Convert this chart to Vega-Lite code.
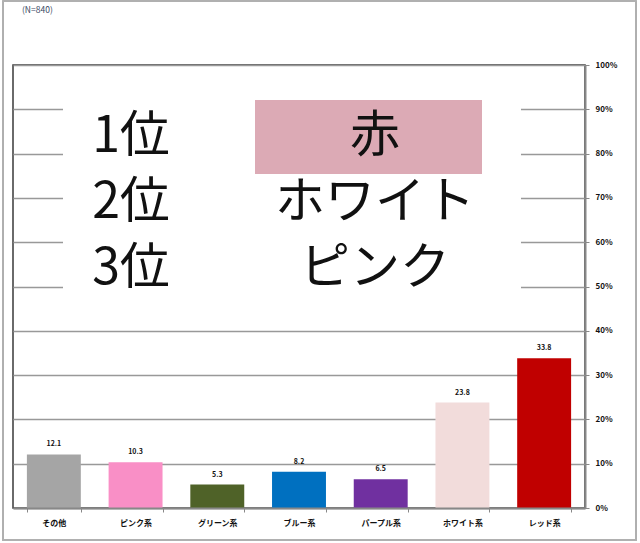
{
  "$schema": "https://vega.github.io/schema/vega-lite/v6.json",
  "autosize": {"type": "none"},
  "padding": {"left": 13, "top": 65, "right": 55, "bottom": 35},
  "width": 572,
  "height": 443,
  "background": "white",
  "title": {
    "text": "(N=840)",
    "anchor": "start",
    "frame": "group",
    "fontSize": 8.5,
    "fontWeight": "normal",
    "font": "Noto Sans CJK JP",
    "color": "#3a4a63",
    "dx": 9,
    "offset": -14
  },
  "config": {
    "view": {"stroke": "#3a3a3a", "strokeWidth": 1.5},
    "font": "Noto Sans CJK JP"
  },
  "datasets": {
    "shares": [
      {"category": "その他", "share": 12.1},
      {"category": "ピンク系", "share": 10.3},
      {"category": "グリーン系", "share": 5.3},
      {"category": "ブルー系", "share": 8.2},
      {"category": "パープル系", "share": 6.5},
      {"category": "ホワイト系", "share": 23.8},
      {"category": "レッド系", "share": 33.8}
    ],
    "ranking": [
      {"rank": "1位", "name": "赤"},
      {"rank": "2位", "name": "ホワイト"},
      {"rank": "3位", "name": "ピンク"}
    ]
  },
  "layer": [
    {
      "data": {"name": "shares"},
      "encoding": {
        "x": {
          "field": "category",
          "type": "nominal",
          "sort": null,
          "scale": {
            "domain": ["その他", "ピンク系", "グリーン系", "ブルー系", "パープル系", "ホワイト系", "レッド系"],
            "paddingInner": 0.34,
            "paddingOuter": 0.17
          },
          "axis": {
            "title": null,
            "labelAngle": 0,
            "labelFontSize": 8,
            "labelFontWeight": "bold",
            "labelColor": "#111111",
            "labelPadding": 7,
            "tickBand": "extent",
            "tickSize": 4,
            "tickColor": "#888888",
            "domainColor": "#888888",
            "domainWidth": 2
          }
        },
        "y": {
          "field": "share",
          "type": "quantitative",
          "scale": {"domain": [0, 100], "nice": false},
          "axis": {
            "orient": "right",
            "title": null,
            "values": [0, 10, 20, 30, 40, 50, 60, 70, 80, 90, 100],
            "labelExpr": "datum.value + '%'",
            "labelFontSize": 8,
            "labelFontWeight": "bold",
            "labelColor": "#111111",
            "labelPadding": 6,
            "tickSize": 4,
            "tickColor": "#888888",
            "domainColor": "#888888",
            "domainWidth": 2,
            "grid": true,
            "gridColor": "#999999",
            "gridWidth": 1.5
          }
        }
      },
      "layer": [
        {
          "mark": {"type": "rect", "fill": null, "filled": false, "stroke": "#b0b0b0", "strokeWidth": 1.5},
          "encoding": {
            "x": {"datum": "その他", "bandPosition": -0.44},
            "x2": {"datum": "レッド系", "bandPosition": 2.2},
            "y": {"datum": -7.2},
            "y2": {"datum": 114.4}
          }
        },
        {
          "mark": {"type": "bar"},
          "encoding": {
            "color": {
              "field": "category",
              "type": "nominal",
              "legend": null,
              "scale": {
                "domain": ["その他", "ピンク系", "グリーン系", "ブルー系", "パープル系", "ホワイト系", "レッド系"],
                "range": ["#a5a5a5", "#f98fc6", "#4f6228", "#0070c0", "#7030a0", "#f2dcdb", "#c00000"]
              }
            }
          }
        },
        {
          "mark": {"type": "text", "baseline": "bottom", "dy": -7, "fontSize": 7, "fontWeight": "bold", "color": "#111111"},
          "encoding": {
            "text": {"field": "share", "type": "quantitative", "format": ".1f"}
          }
        },
        {
          "mark": {"type": "rect", "color": "white"},
          "encoding": {
            "x": {"datum": "その他", "bandPosition": 0.67},
            "x2": {"datum": "レッド系", "bandPosition": 0.06},
            "y": {"datum": 46},
            "y2": {"datum": 98}
          }
        },
        {
          "mark": {"type": "rect", "color": "#dcaab5"},
          "encoding": {
            "x": {"datum": "グリーン系", "bandPosition": 1.2},
            "x2": {"datum": "ホワイト系", "bandPosition": 0.86},
            "y": {"datum": 75.4},
            "y2": {"datum": 92.1}
          }
        }
      ]
    },
    {
      "data": {"name": "ranking"},
      "encoding": {
        "y": {
          "field": "rank",
          "type": "ordinal",
          "scale": {"type": "point", "domain": ["1位", "2位", "3位"], "range": [72, 204], "padding": 0},
          "axis": null
        }
      },
      "layer": [
        {
          "mark": {"type": "text", "fontSize": 50, "font": "Noto Sans CJK JP", "color": "#111111", "baseline": "middle"},
          "encoding": {
            "x": {"datum": "rank", "type": "nominal", "scale": {"type": "point", "domain": ["rank", "name"], "range": [118, 362], "padding": 0}, "axis": null},
            "text": {"field": "rank", "type": "nominal"}
          }
        },
        {
          "mark": {"type": "text", "fontSize": 50, "font": "Noto Sans CJK JP", "color": "#111111", "baseline": "middle"},
          "encoding": {
            "x": {"datum": "name", "type": "nominal"},
            "text": {"field": "name", "type": "nominal"}
          }
        }
      ]
    }
  ],
  "resolve": {"scale": {"x": "independent", "y": "independent", "color": "independent"}}
}
